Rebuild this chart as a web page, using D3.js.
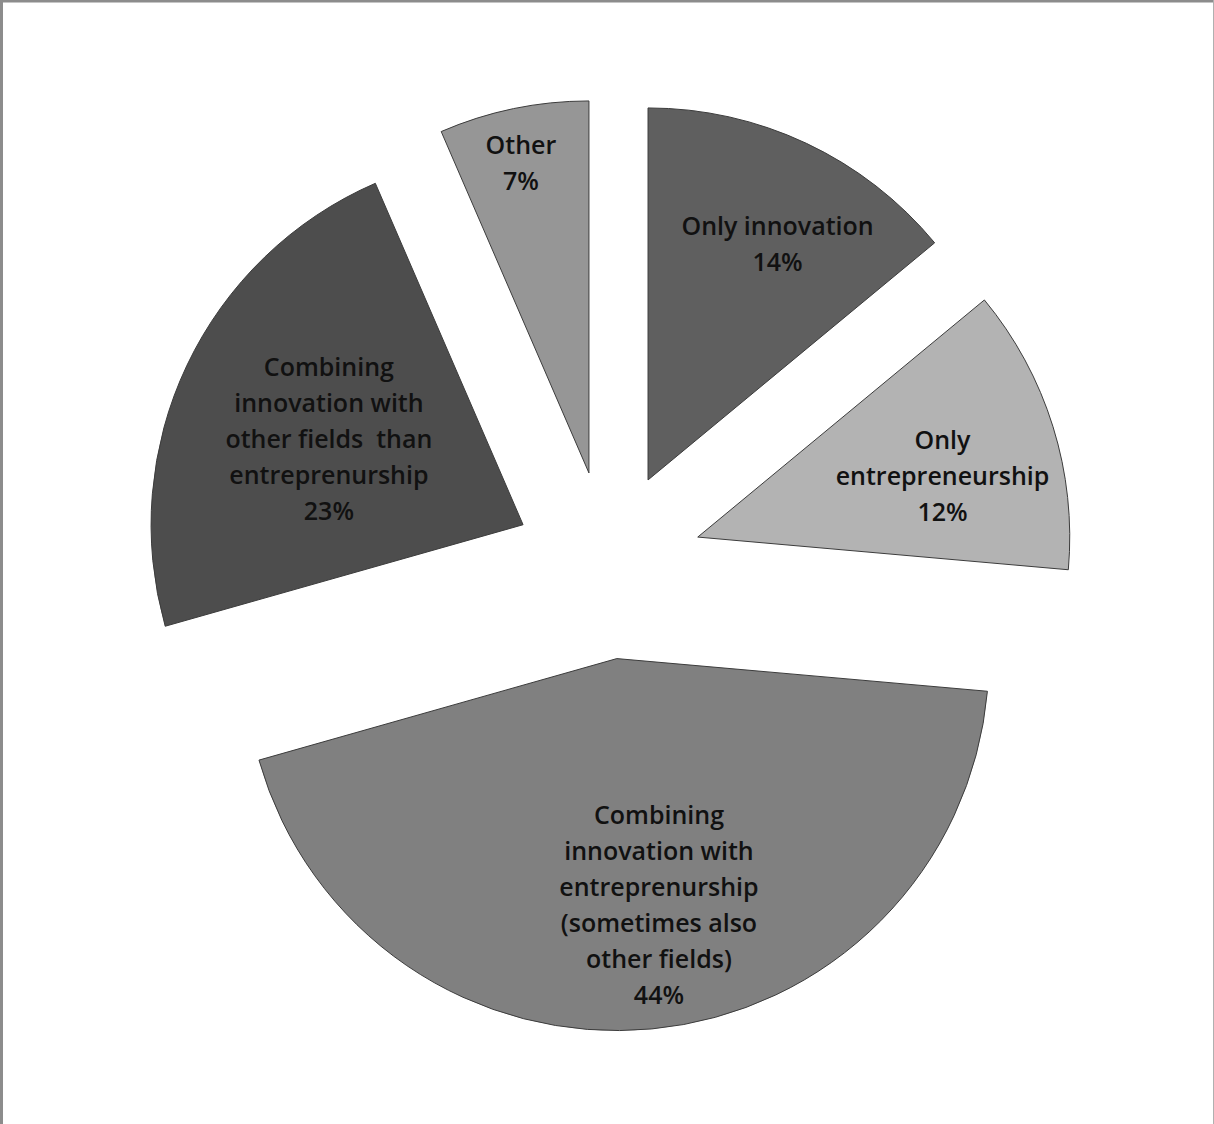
<!DOCTYPE html>
<html>
<head>
<meta charset="utf-8">
<script src="https://cdn.jsdelivr.net/npm/d3@7"></script>
<style>
  html, body { margin: 0; padding: 0; background: #fff; }
  svg { display: block; }
  text { font-variant-ligatures: none; }
</style>
</head>
<body>
<svg id="chart" width="1214" height="1124"></svg>
<script>
// ---- data ----
const categories = [
  "Only innovation",
  "Only entrepreneurship",
  "Combining innovation with entrepreneurship (sometimes also other fields)",
  "Combining innovation with other fields  than entrepreneurship",
  "Other"
];
const values = [14.0, 12.4, 44.2, 22.9, 6.5];
const labelLines = [
  ["Only innovation"],
  ["Only", "entrepreneurship"],
  ["Combining", "innovation with", "entreprenurship", "(sometimes also", "other fields)"],
  ["Combining", "innovation with", "other fields  than", "entreprenurship"],
  ["Other"]
];
const sliceColors = ["#5f5f5f", "#b3b3b3", "#808080", "#4d4d4d", "#969696"];

// ---- layout ----
const W = 1214, H = 1124;
const cx = 608, cy = 565, R = 372, explode = 94;
// label placement relative to slice apex: fraction of radius, angle shift (deg)
const labelFrac = [0.723, 0.678, 0.672, 0.57, 0.852];
const labelShift = [3.6, 3.3, -4.3, -1.7, -0.7];
const lineH = 36;

const svg = d3.select("#chart");

// outer frame
svg.append("line").attr("x1", 0).attr("y1", 1).attr("x2", W).attr("y2", 1)
  .attr("stroke", "#8c8c8c").attr("stroke-width", 3);
svg.append("line").attr("x1", 1.5).attr("y1", 0).attr("x2", 1.5).attr("y2", H)
  .attr("stroke", "#8c8c8c").attr("stroke-width", 3);
svg.append("line").attr("x1", W - 0.5).attr("y1", 0).attr("x2", W - 0.5).attr("y2", H)
  .attr("stroke", "#b0b0b0").attr("stroke-width", 1);

const data = categories.map((c, i) => ({ name: c, value: values[i], lines: labelLines[i], color: sliceColors[i], idx: i }));

const pie = d3.pie().value(d => d.value).sort(null).startAngle(0).endAngle(2 * Math.PI);
const arc = d3.arc().innerRadius(0).outerRadius(R);
const arcs = pie(data);

const g = svg.append("g").attr("transform", `translate(${cx},${cy})`);

const slices = g.selectAll("g.slice").data(arcs).enter().append("g")
  .attr("class", "slice")
  .attr("transform", d => {
    const m = (d.startAngle + d.endAngle) / 2;
    return `translate(${Math.sin(m) * explode},${-Math.cos(m) * explode})`;
  });

slices.append("path")
  .attr("d", arc)
  .attr("fill", d => d.data.color)
  .attr("stroke", "#3c3c3c")
  .attr("stroke-width", 1);

const fmt = v => Math.round(v) + "%";

slices.each(function(d) {
  const i = d.data.idx;
  const m = (d.startAngle + d.endAngle) / 2 + labelShift[i] * Math.PI / 180;
  const r = R * labelFrac[i];
  const lx = Math.sin(m) * r, ly = -Math.cos(m) * r;
  const lines = d.data.lines.concat([fmt(d.data.value)]);
  const n = lines.length;
  const t = d3.select(this).append("text")
    .attr("text-anchor", "middle")
    .attr("font-family", "'Open Sans', Lato, sans-serif")
    .attr("font-weight", 600)
    .attr("font-size", 25)
    .attr("fill", "#111")
    .attr("xml:space", "preserve")
    .style("white-space", "pre");
  lines.forEach((ln, k) => {
    t.append("tspan")
      .attr("x", lx)
      .attr("y", ly + (k - (n - 1) / 2) * lineH)
      .attr("dy", "0.35em")
      .text(ln);
  });
});
</script>
</body>
</html>
